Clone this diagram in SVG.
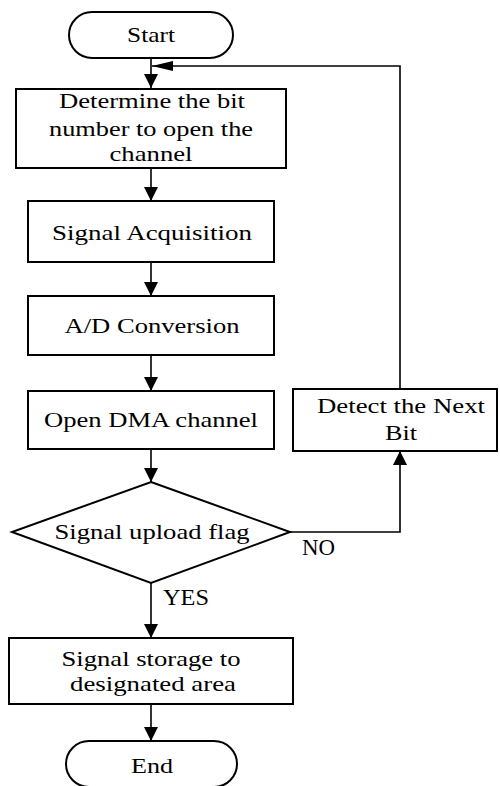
<svg xmlns="http://www.w3.org/2000/svg" width="500" height="786" viewBox="0 0 500 786">
  <defs>
    <style>
      .shape { fill: #fff; stroke: #000; stroke-width: 2; }
      .line { fill: none; stroke: #000; stroke-width: 1.6; }
      .t { font-family: "Liberation Serif", "Times New Roman", serif; font-size: 21px; fill: #000; text-anchor: middle; }
      .lbl { font-family: "Liberation Serif", "Times New Roman", serif; font-size: 24px; fill: #000; }
    </style>
    <marker id="arrow" markerUnits="userSpaceOnUse" markerWidth="14" markerHeight="14" viewBox="0 0 14 14" refX="14" refY="7" orient="auto">
      <path d="M0,0 L14,7 L0,14 Z" fill="#000"/>
    </marker>
    <marker id="arrowLong" markerUnits="userSpaceOnUse" markerWidth="21" markerHeight="10" viewBox="0 0 21 10" refX="21" refY="5" orient="auto">
      <path d="M0,0 L21,5 L0,10 Z" fill="#000"/>
    </marker>
  </defs>

  <g id="connectors">
    <path class="line" d="M151,58 V88" marker-end="url(#arrow)"/>
    <path class="line" d="M151,168 V201" marker-end="url(#arrow)"/>
    <path class="line" d="M151,262 V296" marker-end="url(#arrow)"/>
    <path class="line" d="M151,355 V391" marker-end="url(#arrow)"/>
    <path class="line" d="M151,449 V482" marker-end="url(#arrow)"/>
    <path class="line" d="M151,583 V638" marker-end="url(#arrow)"/>
    <path class="line" d="M151,704 V741" marker-end="url(#arrow)"/>
    <path class="line" d="M290,532 H400 V451" marker-end="url(#arrow)"/>
    <path class="line" d="M400,389 V66 H152" marker-end="url(#arrowLong)"/>
    <text class="lbl" x="302" y="555" textLength="33" lengthAdjust="spacingAndGlyphs">NO</text>
    <text class="lbl" x="163" y="605" textLength="46" lengthAdjust="spacingAndGlyphs">YES</text>
  </g>

  <g id="start">
    <rect class="shape" x="69" y="12" width="164" height="46" rx="23" ry="23"/>
    <text class="t" x="151" y="42" textLength="48" lengthAdjust="spacingAndGlyphs">Start</text>
  </g>

  <g id="determine">
    <rect class="shape" x="16" y="89" width="270" height="79"/>
    <text class="t" x="152" y="108" textLength="186" lengthAdjust="spacingAndGlyphs">Determine the bit</text>
    <text class="t" x="151" y="136" textLength="204" lengthAdjust="spacingAndGlyphs">number to open the</text>
    <text class="t" x="151" y="161" textLength="83" lengthAdjust="spacingAndGlyphs">channel</text>
  </g>

  <g id="acquisition">
    <rect class="shape" x="28" y="201" width="246" height="61"/>
    <text class="t" x="152" y="240" textLength="200" lengthAdjust="spacingAndGlyphs">Signal Acquisition</text>
  </g>

  <g id="conversion">
    <rect class="shape" x="28" y="296" width="246" height="59"/>
    <text class="t" x="152" y="333" textLength="175" lengthAdjust="spacingAndGlyphs">A/D Conversion</text>
  </g>

  <g id="dma">
    <rect class="shape" x="28" y="391" width="246" height="58"/>
    <text class="t" x="151" y="427" textLength="214" lengthAdjust="spacingAndGlyphs">Open DMA channel</text>
  </g>

  <g id="next-bit">
    <rect class="shape" x="293" y="389" width="204" height="62"/>
    <text class="t" x="401" y="413" textLength="168" lengthAdjust="spacingAndGlyphs">Detect the Next</text>
    <text class="t" x="401" y="440" textLength="32" lengthAdjust="spacingAndGlyphs">Bit</text>
  </g>

  <g id="upload-flag">
    <polygon class="shape" points="151,482 290,532 151,583 12,532"/>
    <text class="t" x="152" y="539" textLength="195" lengthAdjust="spacingAndGlyphs">Signal upload flag</text>
  </g>

  <g id="storage">
    <rect class="shape" x="9" y="638" width="284" height="66"/>
    <text class="t" x="151" y="666" textLength="179" lengthAdjust="spacingAndGlyphs">Signal storage to</text>
    <text class="t" x="153" y="691" textLength="166" lengthAdjust="spacingAndGlyphs">designated area</text>
  </g>

  <g id="end">
    <rect class="shape" x="66" y="741" width="171" height="46" rx="23" ry="23"/>
    <text class="t" x="152" y="773" textLength="42" lengthAdjust="spacingAndGlyphs">End</text>
  </g>
</svg>
